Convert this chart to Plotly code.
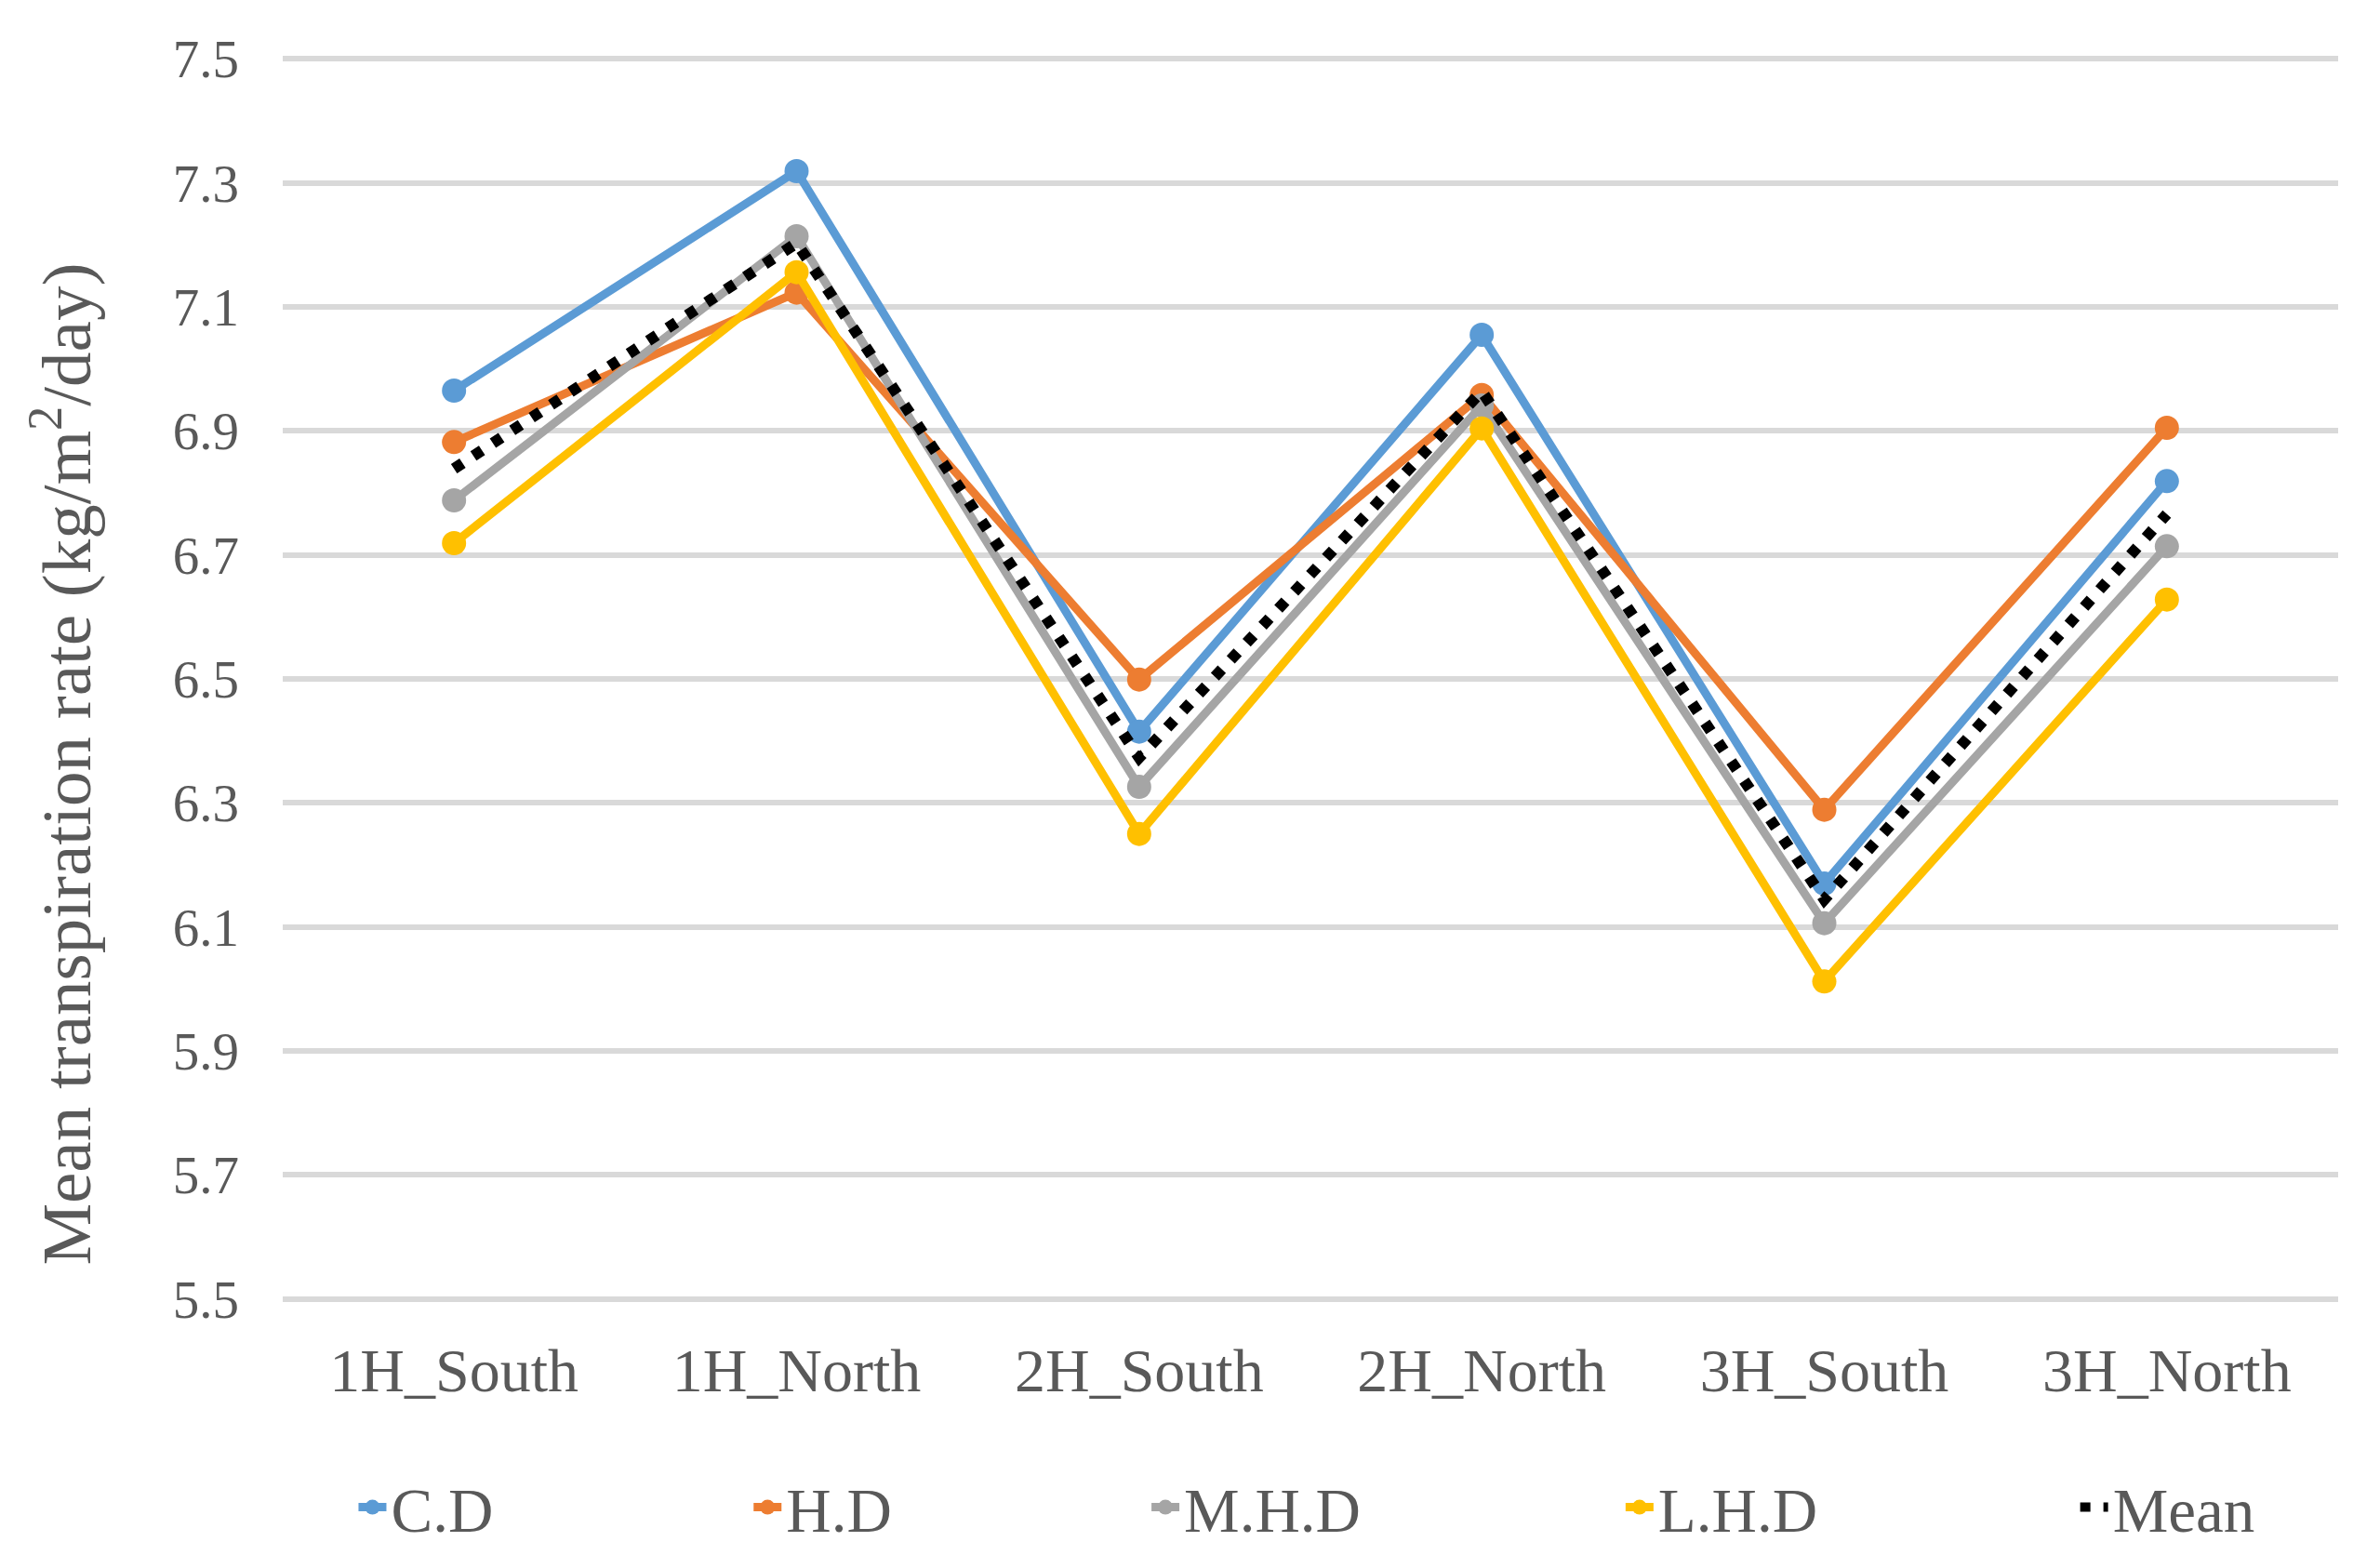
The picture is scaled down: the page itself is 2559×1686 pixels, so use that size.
import plotly.graph_objects as go

categories = ["1H_South", "1H_North", "2H_South", "2H_North", "3H_South", "3H_North"]
cd = [6.965, 7.319, 6.415, 7.055, 6.170, 6.819]
hd = [6.882, 7.123, 6.499, 6.958, 6.289, 6.905]
mhd = [6.788, 7.214, 6.326, 6.941, 6.106, 6.714]
lhd = [6.719, 7.156, 6.250, 6.904, 6.012, 6.628]
mean = [6.839, 7.203, 6.373, 6.964, 6.144, 6.766]

series_names = ["C.D", "H.D", "M.H.D", "L.H.D", "Mean"]
series_values = [cd, hd, mhd, lhd, mean]
colors = ["#5B9BD5", "#ED7D31", "#A5A5A5", "#FFC000", "#000000"]
legend_ids = ["legend", "legend2", "legend3", "legend4", "legend5"]
legend_text_x = [425, 850, 1278, 1788, 2277]   # page px where legend texts start

# figure is placed inside the page body (8px default margin)
OFF = 8
W, H = 2559 - 2 * OFF, 1686 - 2 * OFF
L, T, B = 295.5, 52, 278
PW = 2211
R = W - L - PW
FONT = "Liberation Serif, Times New Roman, serif"
GREY = "#595959"
pw = W - L - R
ph = H - T - B


def px_x(page_x):
    return (page_x - OFF - L) / pw


def px_y(page_y):
    return (H - B - (page_y - OFF)) / ph


fig = go.Figure()
for name, vals, col, lid in zip(series_names, series_values, colors, legend_ids):
    if name == "Mean":
        fig.add_trace(go.Scatter(
            x=categories, y=vals, name=name, mode="lines",
            line=dict(color=col, width=12, dash="11px,14px"),
            legend=lid,
        ))
    else:
        fig.add_trace(go.Scatter(
            x=categories, y=vals, name=name, mode="lines+markers",
            line=dict(color=col, width=9),
            marker=dict(color=col, size=26),
            legend=lid,
        ))

layout_legends = {}
for lid, tx in zip(legend_ids, legend_text_x):
    layout_legends[lid] = dict(
        orientation="h", x=px_x(tx - 45), xanchor="left",
        y=px_y(1621), yanchor="middle",
        font=dict(family=FONT, size=67, color=GREY),
        bgcolor="rgba(0,0,0,0)", borderwidth=0,
    )

fig.update_layout(
    width=W, height=H,
    margin=dict(l=L, r=R, t=T, b=B, pad=0, autoexpand=False),
    paper_bgcolor="white", plot_bgcolor="white",
    font=dict(family=FONT, color=GREY),
    showlegend=True,
    annotations=[dict(
        text="Mean transpiration rate (kg/m<sup>2</sup>/day)",
        textangle=-90, xref="paper", yref="paper",
        x=px_x(66), y=px_y(822), xanchor="center", yanchor="middle",
        showarrow=False, font=dict(family=FONT, size=75, color=GREY),
    )],
    **layout_legends,
)

fig.update_xaxes(
    type="category", range=[-0.5, 5.5], automargin=False,
    showgrid=False, showline=False, zeroline=False, ticks="",
    tickfont=dict(family=FONT, size=66, color=GREY),
    ticklabelstandoff=29,
)
fig.update_yaxes(
    range=[5.495, 7.505], automargin=False,
    tickvals=[5.5, 5.7, 5.9, 6.1, 6.3, 6.5, 6.7, 6.9, 7.1, 7.3, 7.5],
    ticktext=["5.5", "5.7", "5.9", "6.1", "6.3", "6.5", "6.7", "6.9", "7.1", "7.3", "7.5"],
    showgrid=True, gridcolor="#D9D9D9", gridwidth=6,
    showline=False, zeroline=False, ticks="",
    tickfont=dict(family=FONT, size=57, color=GREY),
    ticklabelstandoff=46,
)

fig.write_html("out.html")
